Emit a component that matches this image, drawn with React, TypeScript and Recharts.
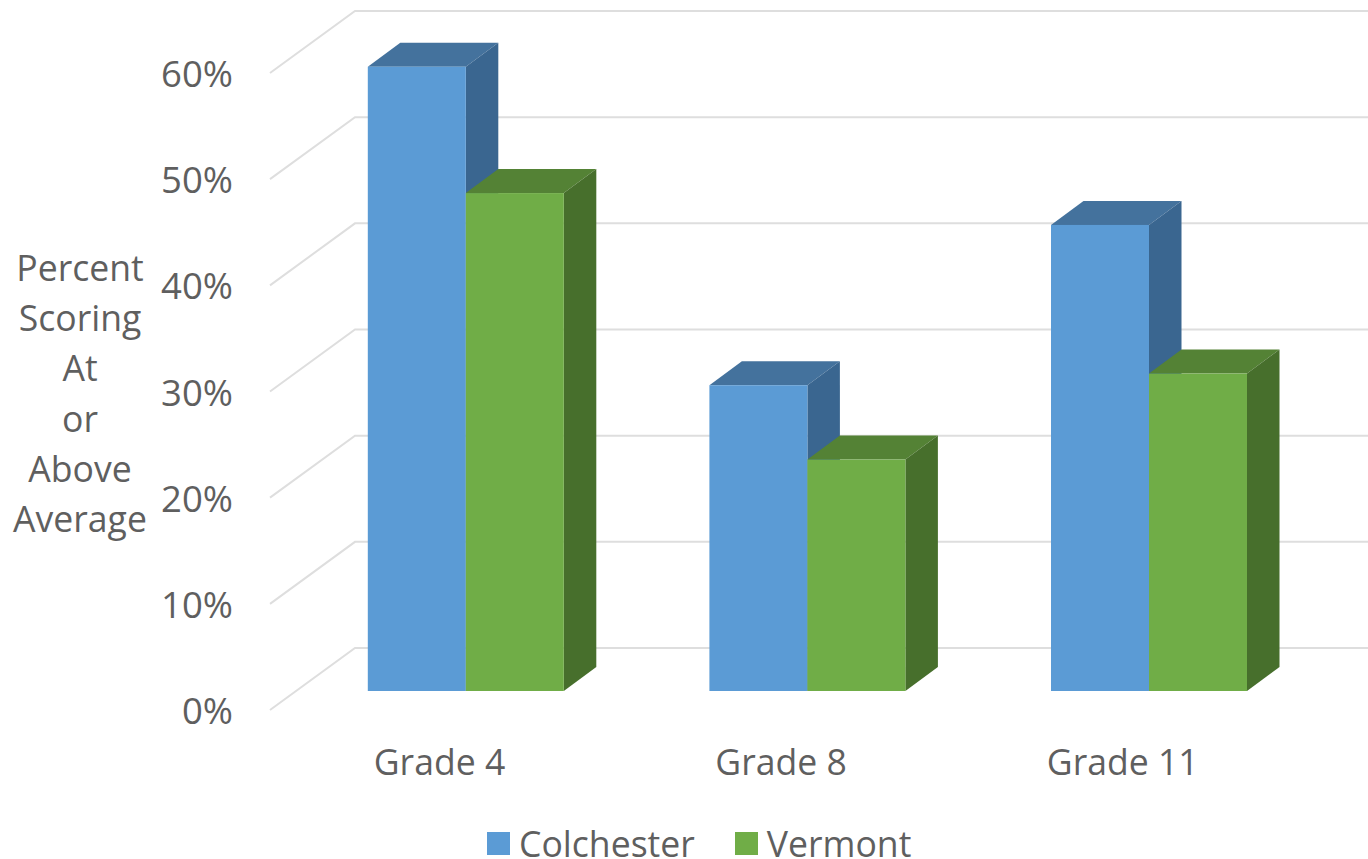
import { BarChart, Bar, XAxis, YAxis, CartesianGrid, Legend } from "recharts";

const grades = ["Grade 4", "Grade 8", "Grade 11"];
const colchester = [58.8, 28.8, 43.9];
const vermont = [46.9, 21.8, 29.9];
const percentTicks = [0, 10, 20, 30, 40, 50, 60];
const axisTitle = ["Percent", "Scoring", "At", "or", "Above", "Average"];

const chartData = grades.map((grade, i) => ({
  grade,
  colchester: colchester[i],
  vermont: vermont[i],
}));

const FONT = "'Open Sans', sans-serif";
const TEXT = "#5f5f5f";
const GRID = "#dedede";

// depth of a bar, and of the floor in front of and behind the bars
const DEPTH_X = 32.5;
const DEPTH_Y = 24;
const WALL_X = 355;
const FRONT_X = 270;
const BACK_RISE = 43;
const FRONT_DROP = 19;

function Bar3D({ x, y, width, height, front, top, side }: any) {
  const dx = DEPTH_X;
  const dy = DEPTH_Y;
  return (
    <g>
      <path
        d={`M${x},${y} l${dx},${-dy} h${width} l${-dx},${dy} Z`}
        fill={top}
      />
      <path
        d={`M${x + width},${y} l${dx},${-dy} v${height} l${-dx},${dy} Z`}
        fill={side}
      />
      <rect x={x} y={y} width={width} height={height} fill={front} />
    </g>
  );
}

// back wall line plus the slanted piece on the side wall
function gridLine(props: any) {
  const { y1 } = props;
  return (
    <polyline
      key={y1}
      points={`${FRONT_X},${y1 + FRONT_DROP} ${WALL_X},${y1 - BACK_RISE} 1368,${y1 - BACK_RISE}`}
      fill="none"
      stroke={GRID}
      strokeWidth={2}
    />
  );
}

function PercentTick({ y, payload }: any) {
  return (
    <text
      x={233}
      y={y + 20}
      dy={13}
      textAnchor="end"
      fontFamily={FONT}
      fontSize={36.5}
      fill={TEXT}
    >
      {payload.value}%
    </text>
  );
}

function GradeTick({ x, y, payload }: any) {
  return (
    <text
      x={x - 26}
      y={y + 63}
      dy={13}
      textAnchor="middle"
      fontFamily={FONT}
      fontSize={35.6}
      fill={TEXT}
    >
      {payload.value}
    </text>
  );
}

function AxisTitle() {
  return (
    <text textAnchor="middle" fontFamily={FONT} fontSize={35.6} fill={TEXT}>
      {axisTitle.map((line, i) => (
        <tspan key={line} x={80} y={281 + i * 50.2}>
          {line}
        </tspan>
      ))}
    </text>
  );
}

function LegendRow({ payload }: any) {
  return (
    <div style={{ display: "flex", alignItems: "center", fontFamily: FONT, fontSize: 35.6, color: TEXT, lineHeight: "32px", whiteSpace: "nowrap" }}>
      {payload.map((entry: any) => (
        <div key={entry.value} style={{ display: "flex", alignItems: "center", marginRight: 40 }}>
          <span style={{ width: 23, height: 23, marginRight: 9, background: entry.color }} />
          {entry.value}
        </div>
      ))}
    </div>
  );
}

export default function App() {
  return (
    <div style={{ position: "absolute", left: 0, top: 0, width: 1368, height: 859, background: "#fff", overflow: "hidden" }}>
      <BarChart
        width={1368}
        height={859}
        data={chartData}
        margin={{ top: 54, right: 48.5, bottom: 0, left: 0 }}
        barCategoryGap="21.4%"
        barGap={0}
      >
        <CartesianGrid vertical={false} horizontal={gridLine} />
        <XAxis
          dataKey="grade"
          height={168}
          axisLine={false}
          tickLine={false}
          tick={<GradeTick />}
        />
        <YAxis
          width={294.7}
          domain={[0, 60]}
          ticks={percentTicks}
          axisLine={false}
          tickLine={false}
          tick={<PercentTick />}
          label={<AxisTitle />}
        />
        <Legend
          layout="horizontal"
          verticalAlign="middle"
          align="center"
          content={<LegendRow />}
          wrapperStyle={{ position: "absolute", left: 487, top: 827, width: 500, height: 32 }}
        />
        <Bar
          dataKey="colchester"
          name="Colchester"
          fill="#5b9bd5"
          isAnimationActive={false}
          shape={<Bar3D front="#5b9bd5" top="#44729d" side="#3a6690" />}
        />
        <Bar
          dataKey="vermont"
          name="Vermont"
          fill="#70ad47"
          isAnimationActive={false}
          shape={<Bar3D front="#70ad47" top="#548235" side="#476f2c" />}
        />
      </BarChart>
    </div>
  );
}
